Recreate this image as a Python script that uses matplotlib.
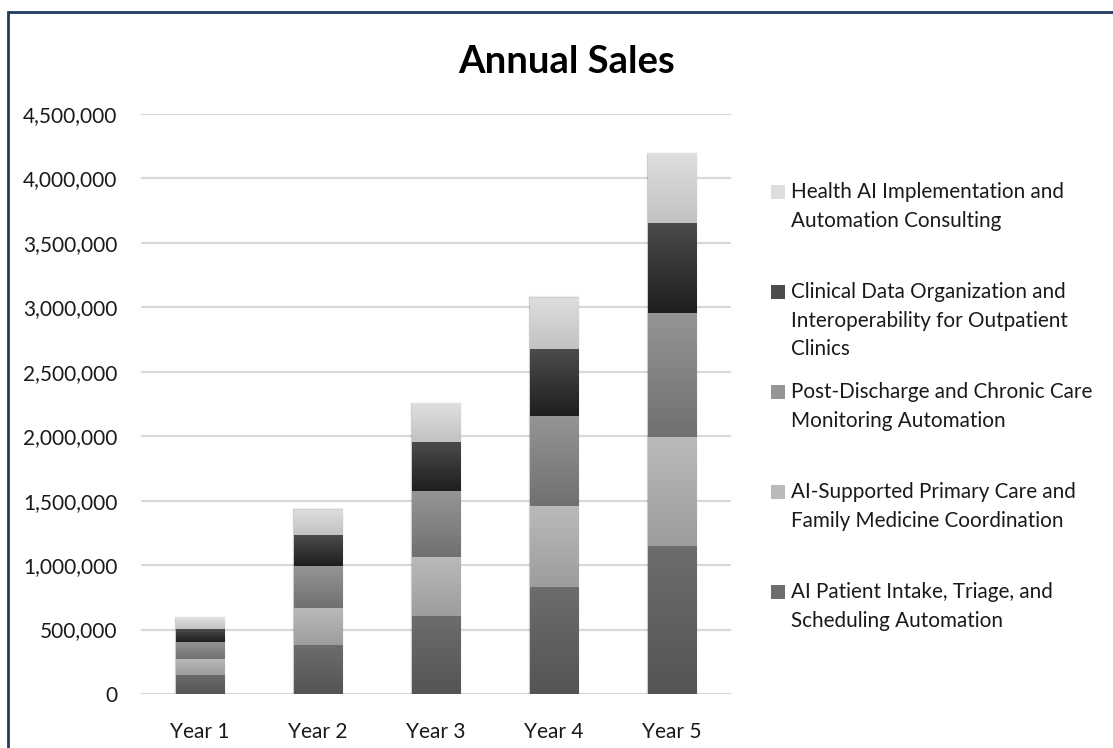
import numpy as np
import matplotlib.pyplot as plt
from matplotlib.colors import LinearSegmentedColormap
from matplotlib.patches import Rectangle
from matplotlib.ticker import FuncFormatter

plt.rcParams['font.family'] = ['Lato', 'DejaVu Sans']

years = ["Year 1", "Year 2", "Year 3", "Year 4", "Year 5"]

intake = [150000, 380000, 607000, 833000, 1149000]
primary_care = [125000, 290000, 458000, 626000, 848000]
post_discharge = [130000, 325000, 510000, 700000, 960000]
clinical_data = [100000, 240000, 382000, 518000, 697000]
consulting = [85000, 195000, 293000, 398000, 536000]

series_names = [
    "AI Patient Intake, Triage, and\nScheduling Automation",
    "AI-Supported Primary Care and\nFamily Medicine Coordination",
    "Post-Discharge and Chronic Care\nMonitoring Automation",
    "Clinical Data Organization and\nInteroperability for Outpatient\nClinics",
    "Health AI Implementation and\nAutomation Consulting",
]
series_values = [intake, primary_care, post_discharge, clinical_data, consulting]

# (top, bottom) shades of each segment's vertical gradient
series_shades = [
    ("#6d6d6d", "#545454"),
    ("#bababa", "#9d9d9d"),
    ("#959595", "#707070"),
    ("#4c4c4c", "#1e1e1e"),
    ("#dedede", "#c2c2c2"),
]

W, H = 1113, 748
fig = plt.figure(figsize=(W / 100, H / 100), dpi=100)
fig.patch.set_facecolor("white")


def fx(px):
    return px / W


def fy(py):
    return 1 - py / H


ax = fig.add_axes([fx(141), fy(694), fx(731) - fx(141), fy(114) - fy(694)])

x = np.arange(len(years))
width = 0.41
bottom = np.zeros(len(years))

for vals, (top_c, bot_c) in zip(series_values, series_shades):
    cmap = LinearSegmentedColormap.from_list("shade", [bot_c, top_c])
    bars = ax.bar(x, vals, width, bottom=bottom, color="none", linewidth=0, zorder=3)
    grad = np.linspace(0, 1, 256).reshape(-1, 1)
    for rect in bars:
        x0, y0 = rect.get_x(), rect.get_y()
        im = ax.imshow(grad, extent=(x0, x0 + rect.get_width(), y0, y0 + rect.get_height()),
                       origin="lower", aspect="auto", cmap=cmap, zorder=3)
        im.set_clip_path(rect)
    bottom += np.array(vals)

# soft shadow around each full stack
for xi, total in zip(x, bottom):
    for k, a in zip(range(1, 6), [0.07, 0.05, 0.035, 0.02, 0.012]):
        pad_x = k * 0.0028
        pad_y = k * 3500
        ax.add_patch(Rectangle((xi - width / 2 - pad_x, -pad_y), width + 2 * pad_x, total + 2 * pad_y,
                               facecolor="black", alpha=a, linewidth=0, zorder=2.5))

ax.set_xlim(-0.5, len(years) - 0.5)
ax.set_ylim(0, 4500000)
ax.set_yticks(np.arange(0, 4500001, 500000))
ax.yaxis.set_major_formatter(FuncFormatter(lambda v, p: f"{int(v):,}"))
ax.set_xticks(x)
ax.set_xticklabels(years)
ax.tick_params(axis="y", length=0, pad=17, labelsize=15, labelcolor="#1a1a1a")
ax.tick_params(axis="x", length=0, pad=20, labelsize=15, labelcolor="#1a1a1a")
ax.grid(axis="y", color="#d9d9d9", linewidth=1.6, zorder=0)
ax.set_axisbelow(True)
for s in ax.spines.values():
    s.set_visible(False)

fig.text(fx(567), fy(62), "Annual Sales", ha="center", va="center",
         fontsize=27.5, fontweight="bold", color="black")

# legend, top entry first
legend_y = [192, 292, 392, 492, 592]
for name, (top_c, bot_c), ly in zip(series_names[::-1], series_shades[::-1], legend_y):
    fig.patches.append(Rectangle((fx(771), fy(ly + 7)), fx(14), fy(ly - 7) - fy(ly + 7),
                                 facecolor=top_c, edgecolor="none", transform=fig.transFigure))
    for i, line in enumerate(name.split("\n")):
        fig.text(fx(791), fy(ly + i * 28.6), line, ha="left", va="center",
                 fontsize=14.9, color="#1a1a1a")

# outer frame
fig.patches.append(Rectangle((fx(8), fy(760)), fx(1130), fy(12) - fy(760), fill=False,
                             edgecolor="#1f3a5f", linewidth=2, transform=fig.transFigure))

fig.savefig("out.png", dpi=100)
